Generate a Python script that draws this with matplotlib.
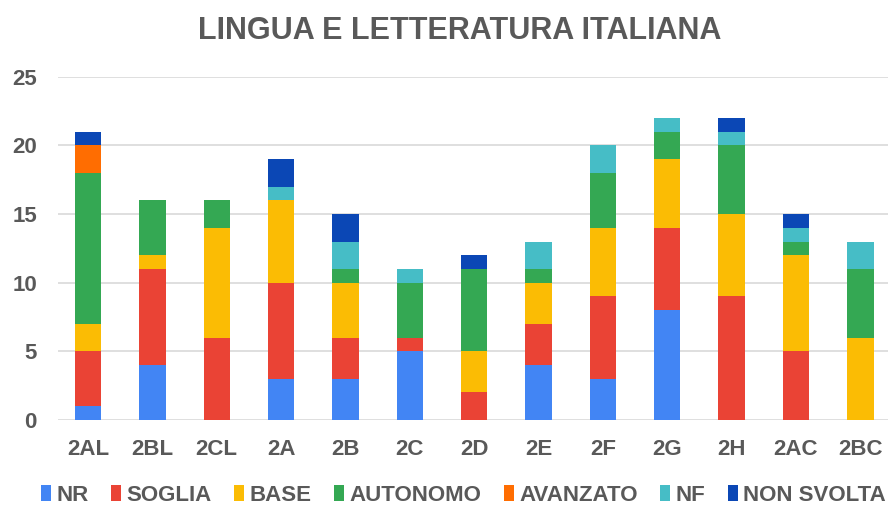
import numpy as np
import matplotlib.pyplot as plt

plt.rcParams['font.family'] = ['Liberation Sans', 'DejaVu Sans']
plt.rcParams['font.weight'] = 'bold'

# dati
classi = ['2AL', '2BL', '2CL', '2A', '2B', '2C', '2D', '2E', '2F', '2G', '2H', '2AC', '2BC']
nr         = [1, 4, 0, 3, 3, 5, 0, 4, 3, 8, 0, 0, 0]
soglia     = [4, 7, 6, 7, 3, 1, 2, 3, 6, 6, 9, 5, 0]
base       = [2, 1, 8, 6, 4, 0, 3, 3, 5, 5, 6, 7, 6]
autonomo   = [11, 4, 2, 0, 1, 4, 6, 1, 4, 2, 5, 1, 5]
avanzato   = [2, 0, 0, 0, 0, 0, 0, 0, 0, 0, 0, 0, 0]
nf         = [0, 0, 0, 1, 2, 1, 0, 2, 2, 1, 1, 1, 2]
non_svolta = [1, 0, 0, 2, 2, 0, 1, 0, 0, 0, 1, 1, 0]

serie = [
    ('NR', nr, '#4285F4'),
    ('SOGLIA', soglia, '#EA4335'),
    ('BASE', base, '#FBBC04'),
    ('AUTONOMO', autonomo, '#34A853'),
    ('AVANZATO', avanzato, '#FF6D01'),
    ('NF', nf, '#46BDC6'),
    ('NON SVOLTA', non_svolta, '#0B47B5'),
]

fig = plt.figure(figsize=(8.88, 5.09), dpi=100)
ax = fig.add_axes([0.065, 0.175, 0.935, 0.674])

x = np.arange(len(classi))
bottom = np.zeros(len(classi))
for nome, valori, colore in serie:
    ax.bar(x, valori, 0.41, bottom=bottom, color=colore, label=nome, zorder=3)
    bottom += np.array(valori)

ax.set_ylim(0, 25)
ax.set_xlim(-0.47, 12.43)
ax.set_yticks(range(0, 26, 5))
ax.set_xticks(x)
ax.set_xticklabels(classi)
ax.grid(axis='y', color='#d9d9d9', linewidth=1.2, zorder=0)
for s in ['top', 'right', 'left', 'bottom']:
    ax.spines[s].set_visible(False)
ax.tick_params(axis='both', length=0, labelsize=16, colors='#595959')
ax.tick_params(axis='y', pad=15)
ax.tick_params(axis='x', pad=14)

fig.suptitle('LINGUA E LETTERATURA ITALIANA', x=0.518, y=0.968,
             fontsize=22, fontweight='bold', color='#595959')

fig.legend(loc='center', bbox_to_anchor=(0.522, 0.027), ncol=7, frameon=False,
           prop={'weight': 'bold', 'size': 16}, labelcolor='#595959',
           handlelength=0.45, handleheight=0.7, handletextpad=0.25, columnspacing=1.0)

plt.savefig('out.png', dpi=100)
